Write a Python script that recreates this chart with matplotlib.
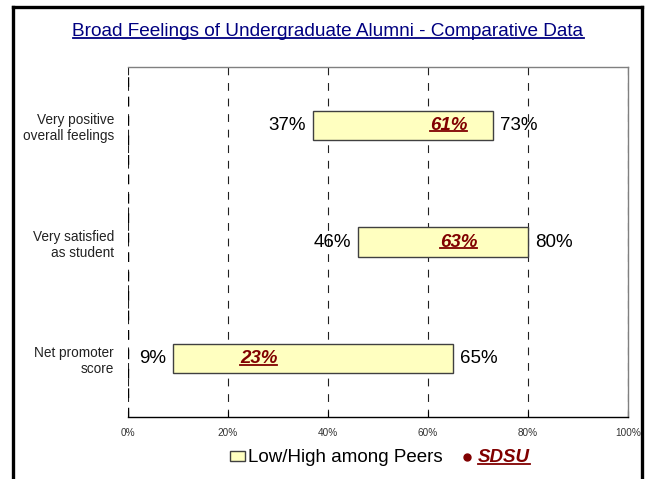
import matplotlib

matplotlib.use("Agg")

import matplotlib.pyplot as plt
from matplotlib.lines import Line2D
from matplotlib.patches import Patch

plt.rcParams["font.family"] = ["Liberation Sans", "DejaVu Sans"]

categories = ["Very positive\noverall feelings", "Very satisfied\nas student", "Net promoter\nscore"]
peer_low = [37, 46, 9]
peer_high = [73, 80, 65]
sdsu = [61, 63, 23]
x_ticks = [0, 20, 40, 60, 80, 100]
x_tick_labels = ["0%", "20%", "40%", "60%", "80%", "100%"]

title = "Broad Feelings of Undergraduate Alumni - Comparative Data"
BAR_FILL = "#ffffc0"
DARK_RED = "#800000"
NAVY = "#000080"

W, H = 646, 479
fig = plt.figure(figsize=(W / 100, H / 100), dpi=100)
ax = fig.add_axes([128 / W, (H - 417) / H, 500 / W, 350 / H])

ypos = list(range(len(categories)))
widths = [hi - lo for lo, hi in zip(peer_low, peer_high)]
ax.barh(ypos, widths, left=peer_low, height=0.25, color=BAR_FILL, edgecolor="#404040", linewidth=1, zorder=3)

underlined = []
for y, lo, hi, s in zip(ypos, peer_low, peer_high, sdsu):
    ax.annotate(f"{lo}%", (lo, y), xytext=(-7, 0), textcoords="offset pixels",
                ha="right", va="center", fontsize=13.5, color="black", zorder=4)
    ax.annotate(f"{hi}%", (hi, y), xytext=(7, 0), textcoords="offset pixels",
                ha="left", va="center", fontsize=13.5, color="black", zorder=4)
    t = ax.annotate(f"{s}%", (s, y), xytext=(-3, 0), textcoords="offset pixels",
                    ha="left", va="center", fontsize=13.5, color=DARK_RED,
                    fontweight="bold", fontstyle="italic", zorder=4)
    underlined.append((t, DARK_RED))

ax.set_xlim(0, 100)
ax.set_ylim(2.5, -0.5)
ax.set_xticks(x_ticks)
ax.set_xticklabels(x_tick_labels, fontsize=7.2, color="#333333")
ax.set_yticks(ypos)
ax.set_yticklabels(categories, fontsize=9.8, color="#222222")
ax.tick_params(axis="y", length=0, pad=10)
ax.tick_params(axis="x", direction="in", length=4, pad=8, color="black")
ax.grid(axis="x", color="#202020", linestyle=(0, (7, 7)), linewidth=0.8, zorder=1)
ax.axvline(0, color="black", linestyle=(0, (7, 7)), linewidth=1, zorder=2)
for side in ("top", "right"):
    ax.spines[side].set_color("#808080")
    ax.spines[side].set_linewidth(1)
ax.spines["left"].set_visible(False)
ax.spines["bottom"].set_color("black")
ax.spines["bottom"].set_linewidth(1)

t = fig.text(328 / W, 1 - 32 / H, title, ha="center", va="center", fontsize=13.7, color=NAVY)
underlined.append((t, NAVY))

handles = [
    Patch(facecolor=BAR_FILL, edgecolor="#404040", linewidth=1),
    Line2D([], [], marker="o", markersize=5, color=DARK_RED, linestyle="none"),
]
leg = fig.legend(handles, ["Low/High among Peers", "SDSU"], loc="center", bbox_to_anchor=(380 / W, 1 - 458 / H),
                 ncol=2, frameon=False, fontsize=13.5, handlelength=0.8, handletextpad=0.16, columnspacing=0.9,
                 handleheight=0.5)
sdsu_text = leg.get_texts()[1]
sdsu_text.set_color(DARK_RED)
sdsu_text.set_fontweight("bold")
sdsu_text.set_fontstyle("italic")
underlined.append((sdsu_text, DARK_RED))

# page border: left, top and right
for xs, ys in (([13.5, 13.5], [0, H - 6.5]), ([13.5, 642], [H - 6.5, H - 6.5]), ([642, 642], [0, H - 6.5])):
    fig.add_artist(Line2D([x / W for x in xs], [y / H for y in ys], color="black", linewidth=2.4,
                          transform=fig.transFigure, solid_capstyle="projecting"))

# underline texts
fig.canvas.draw()
renderer = fig.canvas.get_renderer()
for txt, color in underlined:
    bb = txt.get_window_extent(renderer)
    yline = bb.y0 + 0.14 * bb.height
    fig.add_artist(Line2D([bb.x0 / W, bb.x1 / W], [yline / H, yline / H], color=color,
                          linewidth=1.3, transform=fig.transFigure, zorder=5))

fig.savefig("out.png", dpi=100)
